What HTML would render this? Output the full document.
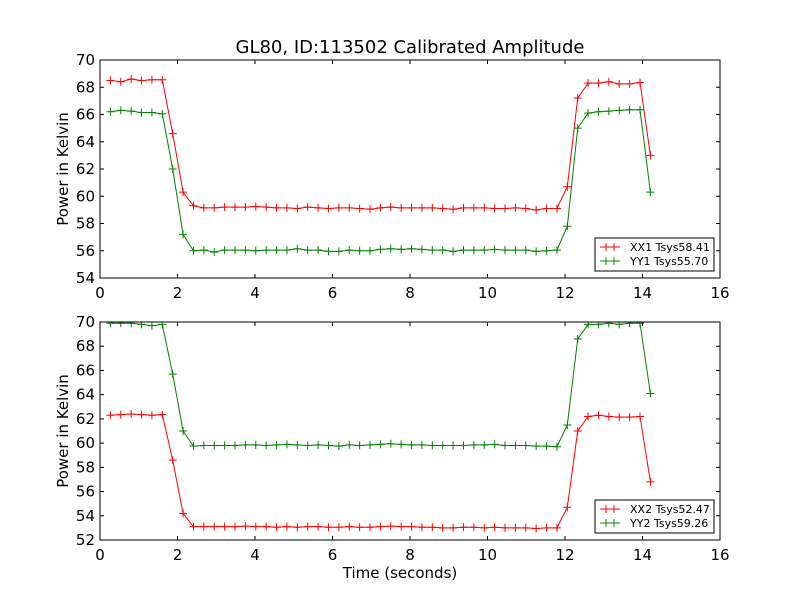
<!DOCTYPE html>
<html><head><meta charset="utf-8"><style>
body{margin:0;background:#fff}
svg text{font-family:"DejaVu Sans","Liberation Sans",sans-serif;fill:#000}
</style></head><body>
<svg id="chart" width="800" height="600" viewBox="0 0 800 600">
<rect width="800" height="600" fill="#fff"/>
<text x="410" y="53" font-size="18" text-anchor="middle">GL80, ID:113502 Calibrated Amplitude</text>
<text x="400" y="578" font-size="15" text-anchor="middle">Time (seconds)</text>
<g id="top"></g><g id="bot"></g>
</svg>
<script>
const xx1 = [68.5,68.4,68.6,68.5,68.55,68.55,64.6,60.3,59.3,59.15,59.15,59.2,59.2,59.2,59.25,59.2,59.15,59.15,59.1,59.2,59.15,59.1,59.15,59.15,59.1,59.05,59.15,59.2,59.15,59.15,59.15,59.15,59.1,59.05,59.15,59.15,59.15,59.1,59.1,59.15,59.1,59.0,59.1,59.1,60.7,67.2,68.3,68.3,68.4,68.25,68.25,68.35,63.0];
const yy1 = [66.2,66.3,66.25,66.15,66.15,66.05,62.0,57.2,56.0,56.05,55.9,56.05,56.05,56.05,56.0,56.05,56.05,56.05,56.15,56.05,56.05,55.95,55.95,56.05,56.0,56.0,56.1,56.15,56.1,56.15,56.1,56.05,56.05,55.95,56.05,56.05,56.05,56.1,56.05,56.05,56.05,55.95,56.0,56.05,57.8,65.0,66.1,66.2,66.25,66.3,66.35,66.35,60.3];
const xx2 = [62.3,62.35,62.4,62.35,62.3,62.35,58.6,54.2,53.1,53.1,53.1,53.1,53.1,53.15,53.1,53.1,53.05,53.1,53.05,53.1,53.1,53.05,53.05,53.1,53.05,53.05,53.1,53.15,53.1,53.1,53.05,53.05,53.0,53.0,53.05,53.05,53.0,53.05,53.0,53.0,53.0,52.95,53.0,53.0,54.7,61.0,62.2,62.3,62.2,62.15,62.15,62.2,56.8];
const yy2 = [69.9,69.9,69.9,69.8,69.7,69.8,65.7,61.0,59.75,59.8,59.8,59.8,59.8,59.85,59.85,59.8,59.85,59.9,59.85,59.8,59.85,59.8,59.75,59.85,59.8,59.85,59.9,59.95,59.9,59.85,59.85,59.8,59.8,59.8,59.8,59.85,59.85,59.9,59.8,59.8,59.8,59.75,59.75,59.7,61.5,68.6,69.8,69.8,69.9,69.8,69.9,69.9,64.1];
const xTicks = [0,2,4,6,8,10,12,14,16];
const yTicksTop = [54,56,58,60,62,64,66,68,70];
const yTicksBot = [52,54,56,58,60,62,64,66,68,70];
const dt = 0.268;
const NS="http://www.w3.org/2000/svg";
function mk(parent,tag,attrs){const e=document.createElementNS(NS,tag);for(const k in attrs)e.setAttribute(k,attrs[k]);parent.appendChild(e);return e;}
function panel(g,top,bottom,ymin,ymax,yTicks,series,labels,legendY,prefix){
  const L=100,R=720;
  const sx=v=>L+(v-0)/(16-0)*(R-L);
  const sy=v=>bottom-(v-ymin)/(ymax-ymin)*(bottom-top);
  const clipId=prefix+'-clip';
  const cp=mk(g,'clipPath',{id:clipId});mk(cp,'rect',{x:L,y:top,width:R-L,height:bottom-top});
  series.forEach((s,si)=>{
    const color=si===0?'#ff0000':'#008000';
    const sg=mk(g,'g',{'clip-path':'url(#'+clipId+')'});
    
    
    const pts=s.map((v,i)=>sx(dt*(i+1)).toFixed(2)+','+sy(v).toFixed(2)).join(' ');
    mk(sg,'polyline',{points:pts,fill:'none',stroke:color,'stroke-width':1});
    s.forEach((v,i)=>{
      const x=sx(dt*(i+1)),y=sy(v);
      const p=mk(sg,'path',{d:`M${x-4},${y}H${x+4}M${x},${y-4}V${y+4}`,stroke:color,'stroke-width':1});
      
      
    });
  });
  const fr=mk(g,'rect',{x:L,y:top,width:R-L,height:bottom-top,fill:'none',stroke:'#000','stroke-width':1});
  
  
  xTicks.forEach(t=>{
    const x=sx(t);
    mk(g,'path',{d:`M${x},${bottom}v-4M${x},${top}v4`,stroke:'#000'});
    const tx=mk(g,'text',{x:x,y:bottom+20,'font-size':15,'text-anchor':'middle'});tx.textContent=t;
    
    
  });
  yTicks.forEach(t=>{
    const y=sy(t);
    mk(g,'path',{d:`M${L},${y}h4M${R},${y}h-4`,stroke:'#000'});
    const tx=mk(g,'text',{x:L-5,y:y+5,'font-size':15,'text-anchor':'end'});tx.textContent=t;
    
    
  });
  const yt=mk(g,'text',{x:0,y:0,'font-size':15,'text-anchor':'middle',transform:`translate(68,${(top+bottom)/2}) rotate(-90)`});
  yt.textContent='Power in Kelvin';
  
  
  const lg=mk(g,'g',{});
  
  
  mk(lg,'rect',{x:595,y:legendY,width:119,height:33,fill:'#fff',stroke:'#000'});
  labels.forEach((lab,i)=>{
    const color=i===0?'#ff0000':'#008000';
    const y=legendY+9+i*14;
    const e=mk(lg,'g',{});
    
    
    mk(e,'path',{d:`M600,${y}h20M606,${y-4}v8M614,${y-4}v8`,stroke:color});
    const t=mk(e,'text',{x:630,y:y+4,'font-size':11});t.textContent=lab;
  });
}
panel(document.getElementById('top'),60,278,54,70,yTicksTop,[xx1,yy1],['XX1 Tsys58.41','YY1 Tsys55.70'],238,'top');
panel(document.getElementById('bot'),322,540,52,70,yTicksBot,[xx2,yy2],['XX2 Tsys52.47','YY2 Tsys59.26'],500,'bottom');
</script>
</body></html>
